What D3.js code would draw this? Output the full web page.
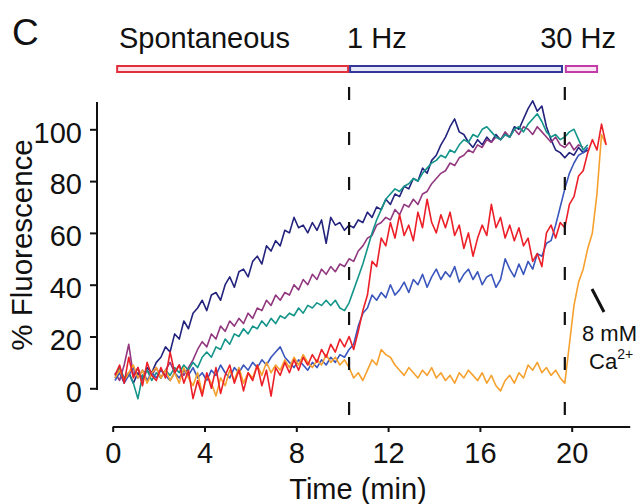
<!DOCTYPE html>
<html>
<head>
<meta charset="utf-8">
<script src="https://cdnjs.cloudflare.com/ajax/libs/d3/7.8.5/d3.min.js"></script>
<style>
  body { margin: 0; background: #fff; }
  svg text { font-family: "Liberation Sans", Arial, Helvetica, sans-serif; fill: #111; }
</style>
</head>
<body>
<div id="chart"></div>
<script>
// samples are every 0.2 min starting at 0.1 min
var sampleStart = 0.1;
var sampleStep = 0.2;

// % fluorescence of each cell
var navyTrace = [4, 7, 3, 6, 2, 6, 4, 8, 6, 10,
  12, 16, 14, 21, 19, 26, 23, 29, 31, 34,
  30, 36, 37, 34, 40, 43, 39, 45, 46, 43,
  49, 51, 48, 55, 53, 57, 55, 61, 60, 66,
  62, 63, 60, 64, 61, 65, 56, 66, 63, 64,
  61, 63, 62, 65, 64, 68, 66, 70, 69, 73,
  71, 75, 74, 78, 77, 81, 80, 85, 83, 88,
  90, 94, 97, 101, 104, 99, 98, 95, 93, 96,
  94, 97, 95, 98, 96, 98, 97, 101, 100, 104,
  108, 111, 107, 109, 101, 96, 92, 91, 89, 91,
  90, 93, 91, 92];

var purpleTrace = [6, 3, 9, 17, 5, 8, 3, 7, 5, 8,
  4, 7, 10, 6, 9, 5, 8, 11, 15, 18,
  16, 21, 19, 24, 22, 26, 24, 27, 25, 29,
  27, 31, 30, 34, 32, 36, 34, 37, 36, 40,
  38, 42, 40, 44, 42, 46, 44, 47, 45, 48,
  47, 50, 49, 53, 55, 58, 59, 63, 64, 66,
  65, 69, 67, 71, 70, 73, 71, 75, 76, 79,
  81, 83, 84, 87, 86, 89, 90, 92, 91, 94,
  93, 96, 95, 97, 96, 99, 97, 100, 98, 101,
  100, 98, 101, 99, 97, 95, 97, 94, 93, 95,
  92, 94, 93];

var tealTrace = [5, 8, 4, 6, 2, -4, 5, 7, 3, 6,
  4, 7, 5, 8, 6, 9, 7, 10, 8, 12,
  14, 12, 16, 15, 19, 17, 21, 20, 23, 21,
  24, 23, 26, 24, 27, 25, 28, 27, 29, 28,
  31, 29, 32, 31, 33, 32, 34, 32, 34, 31,
  30, 33, 38, 43, 48, 54, 60, 65, 69, 73,
  75, 77, 76, 78, 79, 81, 80, 83, 85, 87,
  88, 90, 89, 92, 91, 94, 96, 95, 98, 97,
  100, 101, 99, 97, 96, 98, 97, 100, 101, 99,
  102, 104, 106, 103, 99, 97, 98, 96, 97, 99,
  100, 96, 92, 94];

var blueTrace = [3, 6, 2, 5, 8, 4, 7, 3, 6, 4,
  7, 5, 3, 6, 4, 7, 5, 8, 4, 6,
  3, 7, 5, 9, 6, 4, 8, 6, 9, 7,
  10, 8, 11, 9, 12, 14, 16, 12, 10, 8,
  11, 9, 7, 10, 8, 11, 9, 12, 10, 13,
  12, 15, 17, 24, 29, 31, 36, 34, 37, 35,
  40, 36, 38, 41, 37, 42, 40, 44, 39, 43,
  46, 42, 45, 43, 47, 41, 44, 46, 42, 45,
  40, 43, 44, 39, 42, 50, 46, 43, 48, 44,
  49, 46, 52, 51, 56, 57, 63, 70, 77, 83,
  87, 90, 91, 93];

var orangeTrace = [4, 7, 3, 6, 9, 4, 7, 2, 6, 8,
  4, 7, 3, 6, 2, 8, 4, 1, 6, -2,
  5, 2, -3, 4, 1, 7, 3, 8, 2, 6,
  4, 9, 5, 10, 6, 9, 7, 11, 8, 12,
  9, 13, 10, 8, 11, 9, 13, 10, 12, 9,
  11, 8, 4, 6, 3, 7, 11, 9, 15, 13,
  12, 9, 7, 5, 8, 6, 4, 7, 5, 8,
  4, 6, 3, 5, 2, 6, 4, 7, 5, 3,
  6, 2, 5, 1, -1, 3, 5, 2, 6, 4,
  9, 7, 10, 6, 8, 5, 7, 4, 2, 17,
  32, 41, 46, 54, 60, 75, 98, 94];

var redTrace = [5, 9, 2, 12, 4, 8, 1, 10, 5, 3,
  8, 4, 14, 6, 9, 2, 7, -4, 3, -3,
  6, 0, 8, -2, 5, 9, 2, 7, -1, 6,
  3, 9, 1, 7, -3, 8, 5, 10, 6, 11,
  7, 12, 9, 13, 10, 15, 12, 17, 14, 19,
  16, 20, 15, 22, 30, 36, 49, 47, 58, 55,
  64, 58, 67, 59, 63, 57, 68, 62, 73, 64,
  60, 67, 62, 68, 59, 63, 54, 60, 51, 58,
  63, 59, 71, 62, 66, 58, 63, 57, 62, 55,
  58, 49, 52, 47, 60, 63, 58, 64, 62, 71,
  74, 82, 84, 91, 96, 92, 102, 94];

var traceColors = ['#23237e', '#92387f', '#13958a', '#3a56bd', '#f6a12e', '#ec1f28'];

// stimulation periods (min)
var phaseLabels = ['Spontaneous', '1 Hz', '30 Hz'];
var phaseStart = [0.15, 10.3, 19.7];
var phaseEnd = [10.3, 19.62, 21.15];
var stimulusTimes = [10.3, 19.7];

var xTicks = [0, 4, 8, 12, 16, 20];
var yTicks = [0, 20, 40, 60, 80, 100];

var svgWidth = 641;
var svgHeight = 504;

var svg = d3.select('#chart')
  .append('svg')
  .attr('width', svgWidth)
  .attr('height', svgHeight);

var x = d3.scaleLinear().domain([0, 20]).range([112.7, 571.7]);
var y = d3.scaleLinear().domain([0, 100]).range([388.3, 129.3]);

// traces
var traceLine = d3.line()
  .x((d, i) => x(sampleStart + i * sampleStep))
  .y(d => y(d));

var traces = [navyTrace, purpleTrace, tealTrace, blueTrace, orangeTrace, redTrace];

svg.append('g')
  .selectAll('path')
  .data(traces)
  .enter()
  .append('path')
  .attr('d', traceLine)
  .attr('fill', 'none')
  .attr('stroke', (d, i) => traceColors[i])
  .attr('stroke-width', 1.6)
  .attr('stroke-linejoin', 'round');

// dashed stimulus markers
svg.append('g')
  .selectAll('line')
  .data(stimulusTimes)
  .enter()
  .append('line')
  .attr('x1', d => x(d))
  .attr('x2', d => x(d))
  .attr('y1', 87)
  .attr('y2', 418)
  .attr('stroke', '#111')
  .attr('stroke-width', 2.2)
  .attr('stroke-dasharray', '13,32');

// y axis
var yAxis = svg.append('g')
  .attr('transform', 'translate(97,0)')
  .call(d3.axisLeft(y).tickValues(yTicks).tickSize(7).tickPadding(8));
yAxis.select('.domain').remove();
yAxis.append('line')
  .attr('y1', y(-0.7))
  .attr('y2', y(110.5))
  .attr('stroke', '#111')
  .attr('stroke-width', 2);
yAxis.selectAll('.tick line').attr('stroke', '#111').attr('stroke-width', 2);
yAxis.selectAll('text')
  .attr('font-size', 29)
  .attr('dy', '0.44em')
  .style('fill', '#111');

// x axis
var xAxis = svg.append('g')
  .attr('transform', 'translate(0,427)')
  .call(d3.axisBottom(x).tickValues(xTicks).tickSize(5));
xAxis.select('.domain').remove();
xAxis.append('line')
  .attr('x1', x(0))
  .attr('x2', x(22.55))
  .attr('stroke', '#111')
  .attr('stroke-width', 2);
xAxis.selectAll('.tick line').attr('stroke', '#111').attr('stroke-width', 2);
xAxis.selectAll('text')
  .attr('font-size', 29)
  .attr('y', 36)
  .attr('dy', 0)
  .style('fill', '#111');

// axis labels
svg.append('text')
  .attr('x', 358)
  .attr('y', 499)
  .attr('text-anchor', 'middle')
  .attr('font-size', 29)
  .text('Time (min)');

svg.append('text')
  .attr('transform', 'translate(32,245) rotate(-90)')
  .attr('text-anchor', 'middle')
  .attr('font-size', 29.5)
  .text('% Fluorescence');

// panel letter
svg.append('text')
  .attr('x', 12)
  .attr('y', 45)
  .attr('font-size', 37)
  .text('C');

// stimulation bar
var barStroke = ['#e0303c', '#34369a', '#c23ba6'];
var barFill = ['#fde4e8', '#e7e8f7', '#fbe5f4'];

svg.append('g')
  .selectAll('rect')
  .data(phaseLabels)
  .enter()
  .append('rect')
  .attr('x', (d, i) => x(phaseStart[i]) + 1)
  .attr('y', 66)
  .attr('width', (d, i) => x(phaseEnd[i]) - x(phaseStart[i]) - 2)
  .attr('height', 6)
  .attr('fill', (d, i) => barFill[i])
  .attr('stroke', (d, i) => barStroke[i])
  .attr('stroke-width', 2);

var labelX = [119, 347, 616];
var labelAnchor = ['start', 'start', 'end'];
svg.append('g')
  .selectAll('text')
  .data(phaseLabels)
  .enter()
  .append('text')
  .attr('x', (d, i) => labelX[i])
  .attr('y', 48)
  .attr('text-anchor', (d, i) => labelAnchor[i])
  .attr('font-size', 29)
  .text(d => d);

// 8 mM Ca2+ annotation
svg.append('line')
  .attr('x1', 592)
  .attr('y1', 289)
  .attr('x2', 604)
  .attr('y2', 312)
  .attr('stroke', '#111')
  .attr('stroke-width', 3);

svg.append('text')
  .attr('x', 582)
  .attr('y', 341)
  .attr('font-size', 22)
  .text('8 mM');

var caText = svg.append('text')
  .attr('x', 589)
  .attr('y', 369)
  .attr('font-size', 22)
  .text('Ca');
caText.append('tspan')
  .attr('dy', -10)
  .attr('font-size', 14)
  .text('2+');
</script>
</body>
</html>
